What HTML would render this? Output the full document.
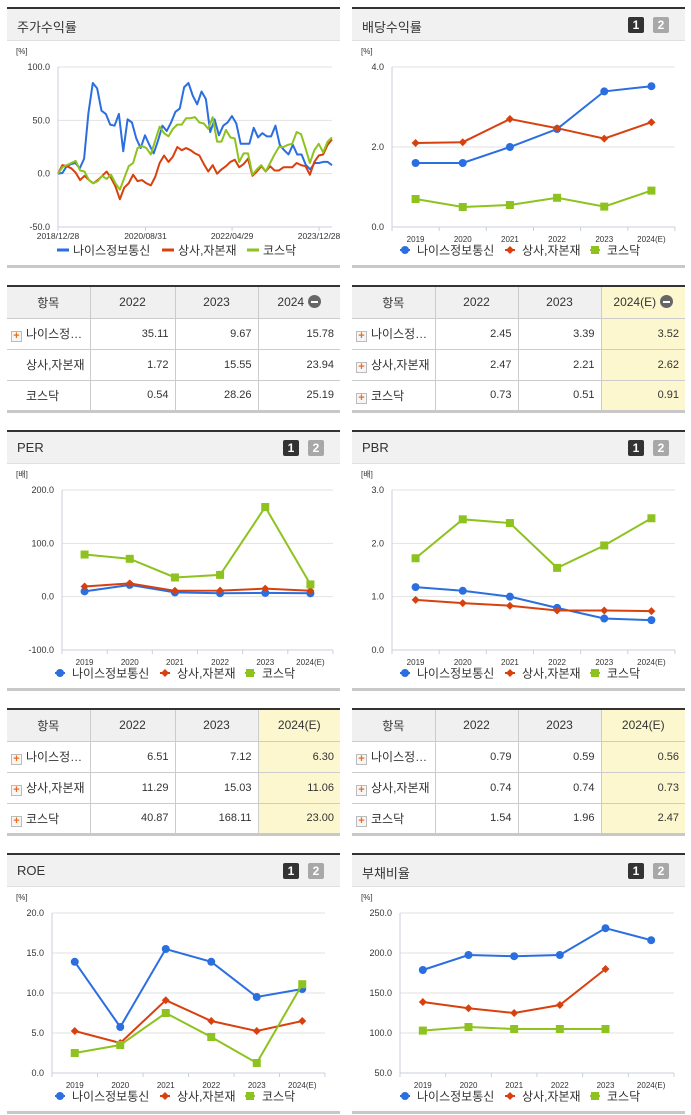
<!DOCTYPE html>
<html><head><meta charset="utf-8">
<style>
*{margin:0;padding:0;box-sizing:border-box}
body{width:691px;height:1115px;background:#fff;position:relative;overflow:hidden;font-family:"Liberation Sans","Noto Sans CJK KR",sans-serif;color:#333}
.panel{position:absolute;width:333px;height:261px;border-top:2px solid #333;border-bottom:3px solid #c8c8c8;background:#fff}
.hdr{position:absolute;left:0;top:0;width:100%;height:32px;background:#f1f1f1;border-bottom:1px solid #e0e0e0}
.hdr .t{position:absolute;left:10px;top:8px;font-size:13px;color:#333}
.b{position:absolute;top:8px;width:16px;height:16px;font-size:12px;font-weight:bold;color:#fff;text-align:center;line-height:16px;border-radius:2px}
.b1{right:41px;background:#333}.b2{right:16px;background:#a8a8a8}
svg.c{position:absolute;left:0;top:0}
table{position:absolute;width:333px;border-collapse:collapse;border-top:2px solid #333;border-bottom:3px solid #c8c8c8;font-size:11px;table-layout:fixed}
td,th{height:31px;border:1px solid #ccc;border-top:none}
th{background:#f0f0f0;font-weight:normal;text-align:center;height:32px;font-size:12px}
td{text-align:right;padding-right:6px}
td.n{text-align:left;padding-left:4px;white-space:nowrap;font-size:12px}
tr td:first-child,tr th:first-child{border-left:none}
tr td:last-child,tr th:last-child{border-right:none}
td.h,th.h{background:#fdf7cf}
.pl{display:inline-block;width:11px;height:11px;border:1px solid #bbb;background:#f6f6f6;color:#f26b1d;font-weight:bold;font-size:11px;line-height:9px;text-align:center;vertical-align:-1px;margin-right:4px}
.sp{display:inline-block;width:15px}
.mi{display:inline-block;width:13px;height:13px;border-radius:50%;background:#666;vertical-align:-2px;margin-left:4px;position:relative}
.mi:after{content:"";position:absolute;left:3px;top:5.5px;width:7px;height:2px;background:#fff}
</style></head><body>

<div class="panel" style="left:7px;top:7px">
 <div class="hdr"><span class="t">주가수익률</span></div>
 <svg class="c" id="c0" width="333" height="258"></svg>
</div>
<div class="panel" style="left:352px;top:7px">
 <div class="hdr"><span class="t">배당수익률</span><span class="b b1">1</span><span class="b b2">2</span></div>
 <svg class="c" id="c1" width="333" height="258"></svg>
</div>

<table style="left:7px;top:285px">
<colgroup><col style="width:83px"><col style="width:85px"><col style="width:83px"><col style="width:82px"></colgroup>
<tr><th>항목</th><th>2022</th><th>2023</th><th>2024<span class="mi"></span></th></tr>
<tr><td class="n"><span class="pl">+</span>나이스정…</td><td>35.11</td><td>9.67</td><td>15.78</td></tr>
<tr><td class="n"><span class="sp"></span>상사,자본재</td><td>1.72</td><td>15.55</td><td>23.94</td></tr>
<tr><td class="n"><span class="sp"></span>코스닥</td><td>0.54</td><td>28.26</td><td>25.19</td></tr>
</table>
<table style="left:352px;top:285px">
<colgroup><col style="width:83px"><col style="width:83px"><col style="width:83px"><col style="width:84px"></colgroup>
<tr><th>항목</th><th>2022</th><th>2023</th><th class="h">2024(E)<span class="mi"></span></th></tr>
<tr><td class="n"><span class="pl">+</span>나이스정…</td><td>2.45</td><td>3.39</td><td class="h">3.52</td></tr>
<tr><td class="n"><span class="pl">+</span>상사,자본재</td><td>2.47</td><td>2.21</td><td class="h">2.62</td></tr>
<tr><td class="n"><span class="pl">+</span>코스닥</td><td>0.73</td><td>0.51</td><td class="h">0.91</td></tr>
</table>

<div class="panel" style="left:7px;top:430px">
 <div class="hdr"><span class="t">PER</span><span class="b b1">1</span><span class="b b2">2</span></div>
 <svg class="c" id="c2" width="333" height="258"></svg>
</div>
<div class="panel" style="left:352px;top:430px">
 <div class="hdr"><span class="t">PBR</span><span class="b b1">1</span><span class="b b2">2</span></div>
 <svg class="c" id="c3" width="333" height="258"></svg>
</div>

<table style="left:7px;top:708px">
<colgroup><col style="width:83px"><col style="width:85px"><col style="width:83px"><col style="width:82px"></colgroup>
<tr><th>항목</th><th>2022</th><th>2023</th><th class="h">2024(E)</th></tr>
<tr><td class="n"><span class="pl">+</span>나이스정…</td><td>6.51</td><td>7.12</td><td class="h">6.30</td></tr>
<tr><td class="n"><span class="pl">+</span>상사,자본재</td><td>11.29</td><td>15.03</td><td class="h">11.06</td></tr>
<tr><td class="n"><span class="pl">+</span>코스닥</td><td>40.87</td><td>168.11</td><td class="h">23.00</td></tr>
</table>
<table style="left:352px;top:708px">
<colgroup><col style="width:83px"><col style="width:83px"><col style="width:83px"><col style="width:84px"></colgroup>
<tr><th>항목</th><th>2022</th><th>2023</th><th class="h">2024(E)</th></tr>
<tr><td class="n"><span class="pl">+</span>나이스정…</td><td>0.79</td><td>0.59</td><td class="h">0.56</td></tr>
<tr><td class="n"><span class="pl">+</span>상사,자본재</td><td>0.74</td><td>0.74</td><td class="h">0.73</td></tr>
<tr><td class="n"><span class="pl">+</span>코스닥</td><td>1.54</td><td>1.96</td><td class="h">2.47</td></tr>
</table>

<div class="panel" style="left:7px;top:853px">
 <div class="hdr"><span class="t">ROE</span><span class="b b1">1</span><span class="b b2">2</span></div>
 <svg class="c" id="c4" width="333" height="258"></svg>
</div>
<div class="panel" style="left:352px;top:853px">
 <div class="hdr"><span class="t">부채비율</span><span class="b b1">1</span><span class="b b2">2</span></div>
 <svg class="c" id="c5" width="333" height="258"></svg>
</div>

<script>
// ---- data ----
const seriesNames = ["나이스정보통신","상사,자본재","코스닥"];
const years = ["2019","2020","2021","2022","2023","2024(E)"];
const stockDateLabels = ["2018/12/28","2020/08/31","2022/04/29","2023/12/28"];
const stockTicks = [100,50,0,-50];
const stockNice = [0,0.6,7,9,10,5,14,57,85,80,59,56,46,45,56,21,51,48,33,24,36,27,19,31,45,40,48,58,61,81,85,73,65,77,70,39,51,36,45,48,54,47,28,28,28,43,34,38,35,35,45,27,22,18,27,18,18,8,4,10,10,11,11,8];
const stockSangsa = [0,8,7,5,1,-6,-2,-6,-9,-6,-2,2,-4,-12,-24,-13,-9,-1,-7,-6,-9,-11,-3,10,17,11,16,25,22,24,22,19,17,9,2,8,0,4,7,11,13,6,9,14,-2,2,7,2,7,3,3,6,6,6,10,8,7,-1,11,17,18,27,32];
const stockKosdaq = [0,6,8,10,12,3,2,-6,-9,-7,-2,-5,-1,-9,-15,-4,7,10,24,26,24,18,31,44,38,35,42,46,46,52,52,53,48,47,42,53,30,30,41,34,33,11,19,19,-1,4,8,2,10,18,25,25,27,28,39,37,24,10,22,28,20,30,34];
const divTicks = [4,2,0];
const divNice = [1.6,1.6,2.0,2.45,3.39,3.52];
const divSangsa = [2.1,2.12,2.7,2.47,2.21,2.62];
const divKosdaq = [0.7,0.5,0.55,0.73,0.51,0.91];
const perTicks = [200,100,0,-100];
const perNice = [10,22,8,6.51,7.12,6.30];
const perSangsa = [19,25,11,11.29,15.03,11.06];
const perKosdaq = [79,71,36,40.87,168.11,23.00];
const pbrTicks = [3,2,1,0];
const pbrNice = [1.18,1.11,1.0,0.79,0.59,0.56];
const pbrSangsa = [0.94,0.88,0.83,0.74,0.74,0.73];
const pbrKosdaq = [1.72,2.45,2.38,1.54,1.96,2.47];
const roeTicks = [20,15,10,5,0];
const roeNice = [13.9,5.75,15.5,13.9,9.5,10.5];
const roeSangsa = [5.25,3.75,9.1,6.5,5.25,6.5];
const roeKosdaq = [2.5,3.5,7.5,4.5,1.25,11.1];
const debtTicks = [250,200,150,100,50];
const debtNice = [178.75,197.5,196,197.5,231,216];
const debtSangsa = [138.75,131,125,135,180,null];
const debtKosdaq = [103,107.5,105,105,105,null];

const COLORS = ["#2a6ee0","#d8400e","#8dc21f"];
const NS = "http://www.w3.org/2000/svg";
function mk(svg, tag, attrs, text){
  const e = document.createElementNS(NS, tag);
  for (const k in attrs) e.setAttribute(k, attrs[k]);
  if (text !== undefined) e.textContent = text;
  svg.appendChild(e);
  return e;
}
const TOP = 58, BOT = 218;
function yScale(v, tks){ const mx = tks[0], mn = tks[tks.length-1]; return TOP + (mx - v)/(mx - mn)*(BOT-TOP); }
function fmt(v){ return v.toFixed(1); }

function axes(svg, tks, ax, right, unit){
  const u = mk(svg,"text",{x:9,y:TOP-13,"font-size":8,fill:"#333"},unit);
  
  
  tks.forEach(t=>{
    const y = yScale(t,tks);
    if (t !== tks[tks.length-1]) {
      const g = mk(svg,"line",{x1:ax,x2:right,y1:y,y2:y,stroke:"#e2e2e2"});
      
      
    }
    const l = mk(svg,"text",{x:ax-8,y:y+3,"font-size":9,fill:"#333","text-anchor":"end"},fmt(t));
    
    
  });
  mk(svg,"line",{x1:ax,x2:ax,y1:TOP,y2:BOT+4,stroke:"#c8d0dc"});
  mk(svg,"line",{x1:ax,x2:right,y1:BOT,y2:BOT,stroke:"#c8d0dc"});
}
function marker(svg, kind, x, y, color){
  let e;
  if (kind===0) e = mk(svg,"circle",{cx:x,cy:y,r:4,fill:color});
  else if (kind===1) e = mk(svg,"path",{d:`M${x} ${y-4}L${x+4} ${y}L${x} ${y+4}L${x-4} ${y}Z`,fill:color});
  else e = mk(svg,"rect",{x:x-4,y:y-4,width:8,height:8,fill:color});
  return e;
}
function legend(svg, x0, lineStyle){
  const offs=[0,105,190];
  seriesNames.forEach((n,i)=>{
    const x = x0+offs[i];
    let m;
    if (lineStyle) m = mk(svg,"line",{x1:x,x2:x+12,y1:241,y2:241,stroke:COLORS[i],"stroke-width":3});
    else { mk(svg,"line",{x1:x-5,x2:x+5,y1:241,y2:241,stroke:COLORS[i],"stroke-width":2}); m = marker(svg,i,x,241,COLORS[i]); }
    
    
    const t = mk(svg,"text",{x:x+(lineStyle?16:12),y:245.5,"font-size":12,fill:"#333"},n);
    
    
  });
}
function catChart(id, tks, ax, right, data, unit){
  const svg = document.getElementById(id);
  axes(svg, tks, ax, right, unit);
  const bw = (right-ax)/years.length;
  years.forEach((c,i)=>{
    mk(svg,"line",{x1:ax+bw*(i+1),x2:ax+bw*(i+1),y1:BOT,y2:BOT+4,stroke:"#c8d0dc"});
    const t = mk(svg,"text",{x:ax+bw*(i+0.5),y:BOT+15,"font-size":8,fill:"#333","text-anchor":"middle"},c);
    
    
  });
  data.forEach((vals,s)=>{
    const pts = [];
    vals.forEach((v,i)=>{ if (v!==null) pts.push([ax+bw*(i+0.5), yScale(v,tks)]); });
    const p = mk(svg,"polyline",{points:pts.map(p=>p.join(",")).join(" "),fill:"none",stroke:COLORS[s],"stroke-width":2});
    
    
    pts.forEach(pt=>{
      const m = marker(svg,s,pt[0],pt[1],COLORS[s]);
      
      
    });
  });
  legend(svg, 53, false);
}

// stock return chart (time axis)
(function(){
  const svg = document.getElementById("c0");
  const ax = 51, right = 325;
  axes(svg, stockTicks, ax, right, "[%]");
  const start = Date.UTC(2018,11,28), end = Date.UTC(2024,2,28);
  const xt = d => ax + (d-start)/(end-start)*(right-ax);
  stockDateLabels.forEach(s=>{
    const p = s.split("/");
    const x = xt(Date.UTC(+p[0],+p[1]-1,+p[2]));
    mk(svg,"line",{x1:x,x2:x,y1:BOT,y2:BOT+4,stroke:"#c8d0dc"});
    const t = mk(svg,"text",{x:x,y:BOT+12,"font-size":8.5,fill:"#333","text-anchor":"middle"},s);
    
    
  });
  [stockNice,stockSangsa,stockKosdaq].forEach((vals,s)=>{
    const pts = vals.map((v,i)=>[ax+i/(vals.length-1)*(right-ax), yScale(v,stockTicks)]);
    const p = mk(svg,"polyline",{points:pts.map(p=>p.join(",")).join(" "),fill:"none",stroke:COLORS[s],"stroke-width":2,"stroke-linejoin":"round"});
    
    
  });
  legend(svg, 50, true);
})();

catChart("c1", divTicks, 40, 323, [divNice,divSangsa,divKosdaq], "[%]");
catChart("c2", perTicks, 55, 326, [perNice,perSangsa,perKosdaq], "[배]");
catChart("c3", pbrTicks, 40, 323, [pbrNice,pbrSangsa,pbrKosdaq], "[배]");
catChart("c4", roeTicks, 45, 318, [roeNice,roeSangsa,roeKosdaq], "[%]");
catChart("c5", debtTicks, 48, 322, [debtNice,debtSangsa,debtKosdaq], "[%]");
</script>
</body></html>
